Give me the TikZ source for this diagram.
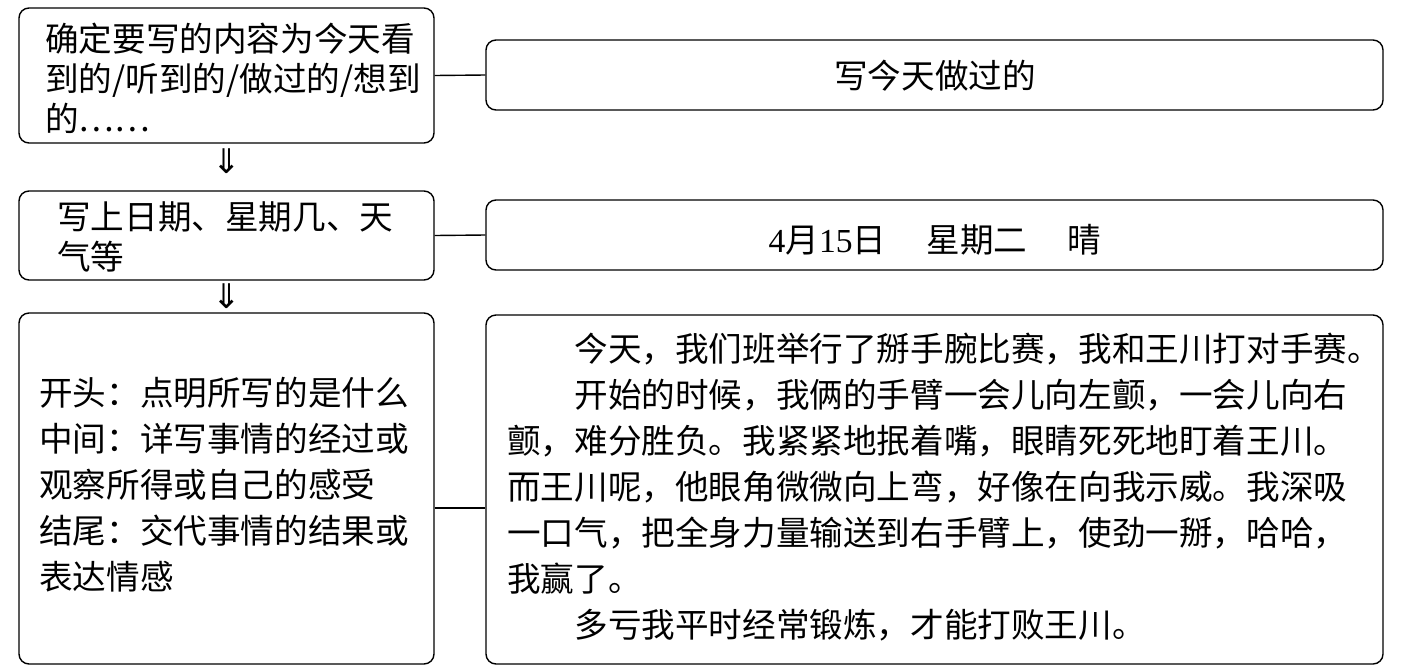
\documentclass[tikz,border=0pt]{standalone}
\usepackage{fontspec}
\setmainfont{Noto Sans CJK SC}
\newfontfamily\numfont{Liberation Serif}
\newfontfamily\symfont{DejaVu Sans}
\begin{document}
\begin{tikzpicture}[x=1pt,y=-1pt,
  box/.style={draw, line width=1.4pt, rounded corners=10pt, inner sep=0pt},
  txt/.style={inner sep=0pt, align=left, anchor=west, font=\fontsize{33.6pt}{40pt}\selectfont},
  ctxt/.style={inner sep=0pt, font=\fontsize{33.6pt}{40pt}\selectfont},
  para/.style={inner sep=0pt, align=left, anchor=west, font=\fontsize{33.6pt}{46pt}\selectfont},
  darrow/.style={inner sep=0pt, font=\symfont\fontsize{34pt}{34pt}\selectfont},
  link/.style={line width=1.4pt}]
\useasboundingbox (0,0) rectangle (1402,670);
% boxes
\node[box, minimum width=415pt, minimum height=135pt] (L1) at (226.5,75.5) {};
\node[box, minimum width=897pt, minimum height=70pt] (R1) at (934.5,75) {};
\node[box, minimum width=415pt, minimum height=89pt] (L2) at (226.5,235.5) {};
\node[box, minimum width=897pt, minimum height=70pt] (R2) at (934.5,235) {};
\node[box, minimum width=415pt, minimum height=351pt] (L3) at (226.5,488.5) {};
\node[box, minimum width=897pt, minimum height=349pt] (R3) at (934.5,489.5) {};
% texts
\node[txt] (t1) at (45,78) {确定要写的内容为今天看\\到的/听到的/做过的/想到\\的……};
\node[ctxt] (r1) at (935,76) {写今天做过的};
\node[txt] (t2) at (57,237) {写上日期、星期几、天\\气等};
\node[ctxt] (r2) at (935,240) {{\numfont 4}月{\numfont 15}日\hspace{1.2em}星期二\hspace{1.2em}晴};
\node[para] (t3) at (39,485) {开头：点明所写的是什么\\中间：详写事情的经过或\\观察所得或自己的感受\\结尾：交代事情的结果或\\表达情感};
\node[para] (r3) at (507,487.5) {\hspace*{2em}今天，我们班举行了掰手腕比赛，我和王川打对手赛。\\
\hspace*{2em}开始的时候，我俩的手臂一会儿向左颤，一会儿向右\\
颤，难分胜负。我紧紧地抿着嘴，眼睛死死地盯着王川。\\
而王川呢，他眼角微微向上弯，好像在向我示威。我深吸\\
一口气，把全身力量输送到右手臂上，使劲一掰，哈哈，\\
我赢了。\\
\hspace*{2em}多亏我平时经常锻炼，才能打败王川。};
% arrows
\node[darrow] (a1) at (227,161) {⇓};
\node[darrow] (a2) at (227,296) {⇓};
% connectors
\draw[link] (L1.east) -- (R1.west);
\draw[link] (L2.east) -- (R2.west);
\draw[link] ([yshift=-19.5pt]L3.east) -- ([yshift=-18.5pt]R3.west);
\end{tikzpicture}
\end{document}
